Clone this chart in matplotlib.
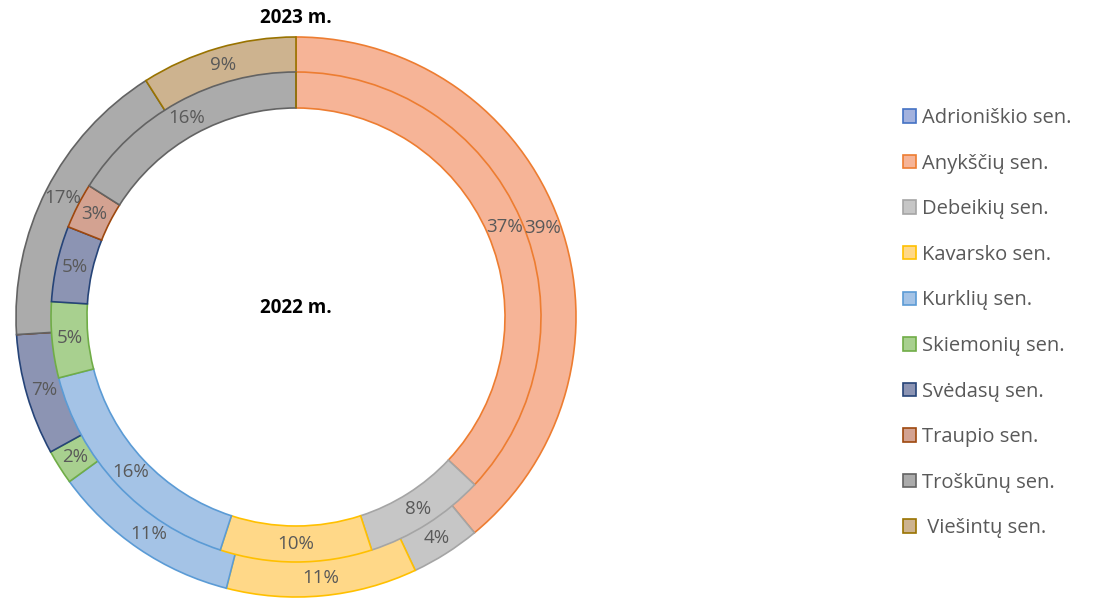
import matplotlib
matplotlib.use("Agg")
import matplotlib.pyplot as plt
from matplotlib.patches import Patch

plt.rcParams['font.family'] = ['Open Sans', 'DejaVu Sans']

categories = ["Adrioniškio sen.", "Anykščių sen.", "Debeikių sen.", "Kavarsko sen.",
              "Kurklių sen.", "Skiemonių sen.", "Svėdasų sen.", "Traupio sen.",
              "Troškūnų sen.", " Viešintų sen."]
values_2023 = [0, 39, 4, 11, 11, 2, 7, 0, 17, 9]
values_2022 = [0, 37, 8, 10, 16, 5, 5, 3, 16, 0]
title_outer = "2023 m."
title_inner = "2022 m."

edge_colors = ["#4472C4", "#ED7D31", "#A5A5A5", "#FFC000", "#5B9BD5",
               "#70AD47", "#264478", "#9E480E", "#636363", "#997300"]
fill_colors = ["#A3B2DE", "#F6B497", "#C6C6C6", "#FFD888", "#A4C3E6",
               "#A8D08F", "#8C94B3", "#D3A291", "#ABABAB", "#CDB38F"]

W, H = 1093, 598
fig = plt.figure(figsize=(W / 100, H / 100), dpi=100)
cx, cy, R = 296, 317, 280
ax = fig.add_axes([(cx - R) / W, (H - cy - R) / H, 2 * R / W, 2 * R / H])

ring_w = 36 / R
r_mid = 245 / R

def fmt(p):
    return f"{p:.0f}%" if p > 0.5 else ""

wedge_kw = dict(width=ring_w, linewidth=1.2)
txt_kw = dict(color="#595959", fontsize=13.5)

w1, _, t1 = ax.pie(values_2023, radius=1.0, colors=fill_colors, startangle=90,
                   counterclock=False, autopct=fmt,
                   pctdistance=(1 - ring_w / 2) / 1.0,
                   wedgeprops=wedge_kw, textprops=txt_kw)
w2, _, t2 = ax.pie(values_2022, radius=r_mid, colors=fill_colors, startangle=90,
                   counterclock=False, autopct=fmt,
                   pctdistance=(r_mid - ring_w / 2) / r_mid,
                   wedgeprops=wedge_kw, textprops=txt_kw)
for wedges in (w1, w2):
    for w, ec in zip(wedges, edge_colors):
        w.set_edgecolor(ec)

ax.set_xlim(-1, 1)
ax.set_ylim(-1, 1)
ax.axis("off")

fig.text(cx / W, 1 - 18 / H, title_outer, ha="center", va="center",
         fontsize=13.5, fontweight="bold", color="black")
fig.text(cx / W, 1 - 308 / H, title_inner, ha="center", va="center",
         fontsize=13.5, fontweight="bold", color="black")

handles = [Patch(facecolor=f, edgecolor=e, linewidth=1.2)
           for f, e in zip(fill_colors, edge_colors)]
leg = fig.legend(handles, categories, loc="upper left",
                 bbox_to_anchor=(895 / W, 1 - 100 / H), frameon=False,
                 fontsize=14.5, labelspacing=1.27, handlelength=0.65,
                 handleheight=0.65, handletextpad=0.3, borderaxespad=0)
for t in leg.get_texts():
    t.set_color("#595959")

fig.savefig("out.png", dpi=100)
